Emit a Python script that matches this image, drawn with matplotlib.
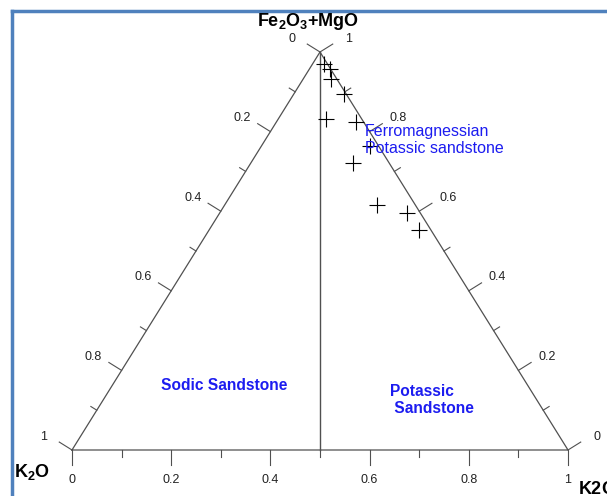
import numpy as np
import matplotlib
matplotlib.use('Agg')
import matplotlib.pyplot as plt
from matplotlib.lines import Line2D

plt.rcParams['font.family'] = ['Liberation Sans', 'DejaVu Sans']
plt.rcParams['mathtext.fontset'] = 'custom'
plt.rcParams['mathtext.rm'] = 'Liberation Sans'
plt.rcParams['mathtext.bf'] = 'Liberation Sans:bold'

# sample compositions, normalised to 100 %
fe2o3_mgo = [97.0, 95.7, 93.2, 89.4, 83.2, 82.4, 76.4, 72.1, 61.6, 59.5, 55.3]
k2o = [2.3, 4.2, 5.6, 10.1, 9.6, 16.1, 21.9, 20.6, 30.7, 37.7, 42.4]
na2o = [0.7, 0.1, 1.2, 0.5, 7.2, 1.5, 1.7, 7.3, 7.7, 2.8, 2.3]

tick_values = np.round(np.arange(0, 1.01, 0.1), 1)
major_values = [0.0, 0.2, 0.4, 0.6, 0.8, 1.0]

W, H = 607, 496
AX_W, AX_H = 496, 398   # size of the triangle in pixels
LINE = '#505050'
TXT = '#222222'
BLUE = '#1c1cf0'

fig = plt.figure(figsize=(W / 100, H / 100), dpi=100)
ax = fig.add_axes([72 / W, 46 / H, AX_W / W, AX_H / H])
ax.set_xlim(0, 1)
ax.set_ylim(0, 1)
ax.axis('off')


def to_xy(top, right):
    # top = Fe2O3+MgO fraction, right = bottom-right corner fraction
    return right + 0.5 * top, top


def tick(x0, y0, nx, ny, length, label=None, off=(0, 0)):
    ax.plot([x0, x0 + nx * length / AX_W], [y0, y0 + ny * length / AX_H],
            color=LINE, lw=0.8, clip_on=False)
    if label is not None:
        ax.text(x0 + off[0] / AX_W, y0 + off[1] / AX_H, label,
                ha='center', va='center', fontsize=9, color=TXT)


# triangle outline and the dividing line
ax.plot([0, 1, 0.5, 0], [0, 0, 1, 0], color=LINE, lw=0.9, clip_on=False)
ax.plot([0.5, 0.5], [0, 1], color=LINE, lw=1.0, clip_on=False)

n = np.hypot(248, 398)
left_n = (-398 / n, 248 / n)
right_n = (398 / n, 248 / n)

for v in tick_values:
    major = v in major_values
    length = 15 if major else 7
    lab = f'{v:g}' if major else None
    # bottom edge, 0 at left
    tick(v, 0, 0, -1, length, lab, off=(0, -30))
    # left edge, 0 at apex
    x, y = to_xy(1 - v, 0)
    tick(x, y, left_n[0], left_n[1], length, lab, off=(-28, 13.5))
    # right edge, 1 at apex
    x, y = to_xy(v, 1 - v)
    tick(x, y, right_n[0], right_n[1], length, lab, off=(28.5, 13.5))

# samples
px, py = to_xy(np.array(fe2o3_mgo) / 100, np.array(k2o) / 100)
ax.plot(px, py, '+', color='black', ms=12, mew=0.8, ls='none', clip_on=False)

# corner titles
fig.text(308 / W, 1 - 21 / H, r'$\mathbf{Fe_2O_3{+}MgO}$', ha='center',
         va='center', fontsize=13, color='black')
fig.text(14 / W, 1 - 472 / H, r'$\mathbf{K_2O}$', ha='left', va='center',
         fontsize=13, color='black')
fig.text(578 / W, 1 - 490 / H, r'$\mathbf{K2O}$', ha='left', va='center',
         fontsize=13, color='black')

# field names
fig.text(365 / W, 1 - 140 / H, 'Ferromagnessian\nPotassic sandstone',
         ha='left', va='center', fontsize=11.5, color=BLUE, linespacing=1.1)
fig.text(224 / W, 1 - 386 / H, 'Sodic Sandstone', ha='center', va='center',
         fontsize=11.2, fontweight='bold', color=BLUE)
fig.text(390 / W, 1 - 400 / H, 'Potassic\n Sandstone', ha='left',
         va='center', fontsize=11.2, fontweight='bold', color=BLUE,
         linespacing=1.1)

# frame lines along the top and left
border = '#4f81bd'
fig.add_artist(Line2D([12 / W, 12 / W], [0, 1 - 11 / H],
                      transform=fig.transFigure, color=border, lw=2.5))
fig.add_artist(Line2D([12 / W, 1], [1 - 11 / H, 1 - 11 / H],
                      transform=fig.transFigure, color=border, lw=2.5))

fig.savefig('out.png', dpi=100)
